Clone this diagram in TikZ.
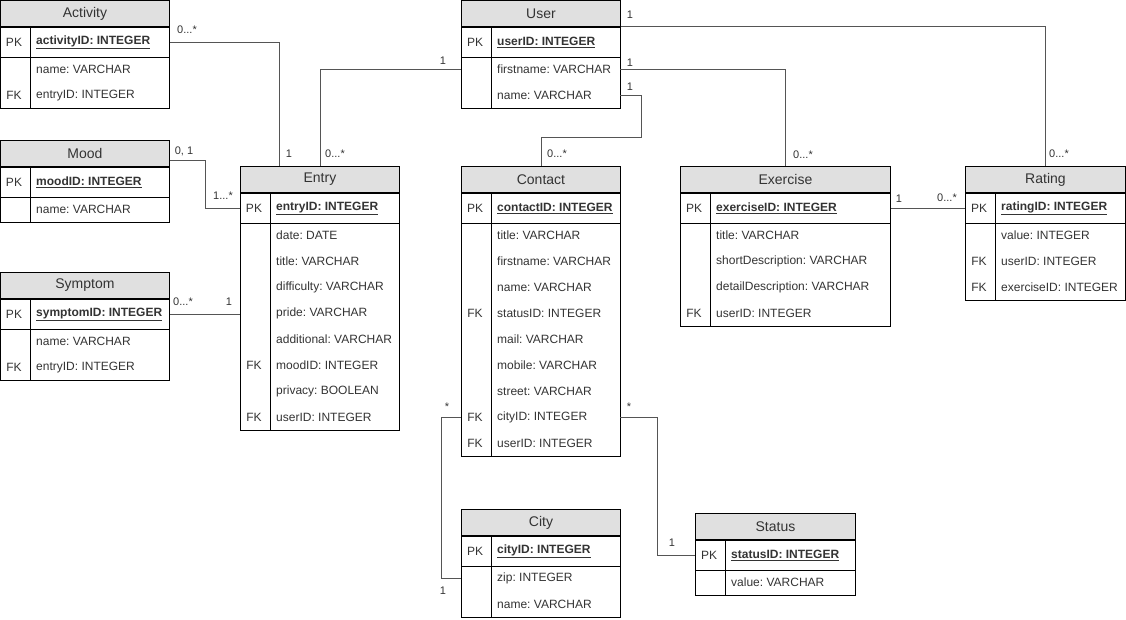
\documentclass[tikz,border=0pt]{standalone}
\usepackage{fontspec}
\setmainfont{Liberation Sans}
\usetikzlibrary{calc}

\definecolor{headgray}{HTML}{E0E0E0}
\definecolor{textgray}{HTML}{333333}
\definecolor{linegray}{HTML}{555555}

\tikzset{
  txt/.style={font=\fontsize{12}{14}\selectfont, text=textgray, inner sep=0pt},
  tblbox/.style={draw=black, line width=0.9pt, inner sep=0pt, anchor=north west, txt},
  tblhead/.style={tblbox, fill=headgray, minimum height=26pt, font=\fontsize{14}{16}\selectfont},
  tblpk/.style={tblbox, minimum height=30pt},
  tblrow/.style={inner sep=0pt, anchor=north west, minimum height=26pt},
  rel/.style={draw=linegray, line width=0.9pt},
  card/.style={txt, font=\fontsize{11}{13}\selectfont}
}

\newcommand{\ertable}[7]{%
  \node[tblhead, minimum width=#4pt] (#1) at (#2,#3) {#5};
  \node[tblpk, minimum width=#4pt] (#1-pk) at (#1.south west) {};
  \node[txt] (#1-pk-key) at ([xshift=14pt]#1-pk.west) {PK};
  \node[txt, anchor=west] (#1-pk-txt) at ([xshift=36pt]#1-pk.west) {\underline{\textbf{#6}}};
  \foreach \k/\f [count=\i] in {#7} {
    \node[tblrow, minimum width=#4pt] (#1-\i) at (#2,{#3+56+26*(\i-1)}) {};
    \node[txt] (#1-\i-key) at ([xshift=14pt]#1-\i.west) {\k};
    \node[txt, anchor=west] (#1-\i-txt) at ([xshift=36pt]#1-\i.west) {\f};
    \xdef\lastrow{\i}
  }
  \draw[line width=0.9pt] (#1-pk.south west) rectangle (#1-\lastrow.south east);
  \draw[line width=0.9pt] ([xshift=30pt]#1-pk.north west) -- ([xshift=30pt]#1-\lastrow.south west);
}

\begin{document}
\frenchspacing
\begin{tikzpicture}[x=1pt, y=-1pt]
\useasboundingbox (0,0) rectangle (1126,619);

\ertable{activity}{0}{0}{169}{Activity}{activityID: INTEGER}{/name: VARCHAR, FK/entryID: INTEGER}
\ertable{mood}{0}{140}{169}{Mood}{moodID: INTEGER}{/name: VARCHAR}
\ertable{symptom}{0}{272}{169}{Symptom}{symptomID: INTEGER}{/name: VARCHAR, FK/entryID: INTEGER}
\ertable{entry}{240}{166}{159}{Entry}{entryID: INTEGER}{/date: DATE, /title: VARCHAR, /difficulty: VARCHAR, /pride: VARCHAR, /additional: VARCHAR, FK/moodID: INTEGER, /privacy: BOOLEAN, FK/userID: INTEGER}
\ertable{user}{461}{0}{159}{User}{userID: INTEGER}{/firstname: VARCHAR, /name: VARCHAR}
\ertable{contact}{461}{166}{159}{Contact}{contactID: INTEGER}{/title: VARCHAR, /firstname: VARCHAR, /name: VARCHAR, FK/statusID: INTEGER, /mail: VARCHAR, /mobile: VARCHAR, /street: VARCHAR, FK/cityID: INTEGER, FK/userID: INTEGER}
\ertable{exercise}{680}{166}{210}{Exercise}{exerciseID: INTEGER}{/title: VARCHAR, /shortDescription: VARCHAR, /detailDescription: VARCHAR, FK/userID: INTEGER}
\ertable{rating}{965}{166}{160}{Rating}{ratingID: INTEGER}{/value: INTEGER, FK/userID: INTEGER, FK/exerciseID: INTEGER}
\ertable{city}{461}{509}{159}{City}{cityID: INTEGER}{/zip: INTEGER, /name: VARCHAR}
\ertable{status}{695}{513}{160}{Status}{statusID: INTEGER}{/value: VARCHAR}

\coordinate (entry-in) at ([xshift=39pt]entry.north west);

\draw[rel] (activity-pk.east) -| (entry-in);
\draw[rel] (entry.north) |- (user-1.west);
\draw[rel] ([yshift=-7pt]mood.east) -| ($(mood.east)!.5!(entry-pk.west)$) |- (entry-pk.west);
\draw[rel] (symptom-pk.east) -- (symptom-pk.east -| entry.west);
\draw[rel] (user-2.east) -- ++(21,0) |- ([yshift=29pt]contact.north) -- (contact.north);
\draw[rel] (user-1.east) -| (exercise.north);
\draw[rel] (user-pk.north east) -| (rating.north);
\draw[rel] (exercise-pk.east) -- (rating-pk.west);
\draw[rel] (contact-8.west) -- ++(-20,0) |- (city-1.west);
\draw[rel] (contact-8.east) -- ++(37,0) |- (status-pk.west);

\node[card] (c1a) at (187,30) {0...*};
\node[card] (c1b) at (289,154) {1};
\node[card] (c2a) at (335,154) {0...*};
\node[card] (c2b) at (443,61) {1};
\node[card] (c3a) at (184,151) {0, 1};
\node[card] (c3b) at (223,196) {1...*};
\node[card] (c4a) at (183,302) {0...*};
\node[card] (c4b) at (229,302) {1};
\node[card] (c5a) at (630,87) {1};
\node[card] (c5b) at (557,154) {0...*};
\node[card] (c6a) at (630,63) {1};
\node[card] (c6b) at (803,155) {0...*};
\node[card] (c7a) at (630,15) {1};
\node[card] (c7b) at (1059,154) {0...*};
\node[card] (c8a) at (899,199) {1};
\node[card] (c8b) at (947,198) {0...*};
\node[card] (c9a) at (447,407) {*};
\node[card] (c9b) at (443,591) {1};
\node[card] (c10a) at (629,407) {*};
\node[card] (c10b) at (672,543) {1};
\end{tikzpicture}
\end{document}
